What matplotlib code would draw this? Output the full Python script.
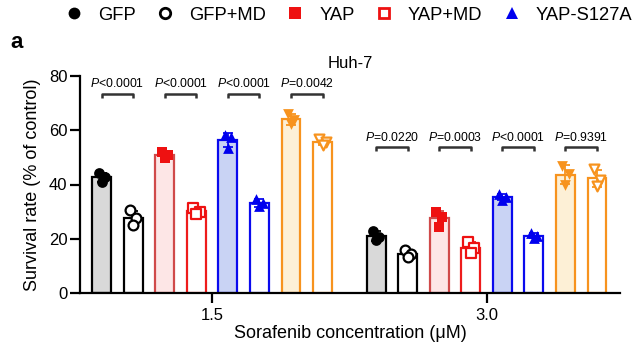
import matplotlib
matplotlib.use("Agg")
import matplotlib.pyplot as plt
from matplotlib.lines import Line2D
import numpy as np

plt.rcParams['font.family'] = ['Liberation Sans', 'DejaVu Sans']
plt.rcParams['mathtext.fontset'] = 'custom'
plt.rcParams['mathtext.it'] = 'Liberation Sans:italic'
plt.rcParams['mathtext.rm'] = 'Liberation Sans'

concentrations = ["1.5", "3.0"]
groups = ["GFP", "GFP+MD", "YAP", "YAP+MD", "YAP-S127A", "YAP-S127A+MD", "YAP-5SA", "YAP-5SA+MD"]

# individual replicate values (% of control)
pts_15 = [
    [44.2, 42.8, 41.0],
    [30.5, 27.5, 25.2],
    [52.0, 51.0, 49.8],
    [31.5, 30.0, 29.3],
    [58.2, 57.4, 53.3],
    [34.8, 33.0, 31.9],
    [66.0, 63.8, 62.2],
    [56.6, 55.5, 54.5],
]
pts_30 = [
    [23.0, 20.5, 19.5],
    [15.8, 14.2, 13.2],
    [30.0, 28.0, 24.5],
    [18.8, 16.5, 14.6],
    [36.5, 35.5, 34.2],
    [22.0, 21.0, 20.3],
    [47.0, 44.0, 40.0],
    [45.8, 41.5, 39.5],
]
pvals_15 = ["<0.0001", "<0.0001", "<0.0001", "=0.0042"]
pvals_30 = ["=0.0220", "=0.0003", "<0.0001", "=0.9391"]

fills = ['#d9d9d9', 'white', '#fde6e6', 'white', '#c9d3f4', 'white', '#fdf0d6', 'white']
edges = ['black', 'black', '#d04a4a', '#ee1c1c', '#0a0aee', '#0a0aee', '#f7931e', '#f7931e']
mcolors = ['black', 'black', '#ee1111', '#ee1111', '#0000ee', '#0000ee', '#f7931e', '#f7931e']
markers = ['o', 'o', 's', 's', '^', '^', 'v', 'v']
mfilled = [True, False, True, False, True, True, True, False]

fig = plt.figure(figsize=(6.32, 3.47), dpi=100)
ax = fig.add_axes([80/632, 1-293/347, 540/632, 217/347])

offset = 8.7
width = 0.6
jit = [-0.1, 0.1, 0.0]

for g, pts_all in enumerate([pts_15, pts_30]):
    for i, pts in enumerate(pts_all):
        x = g*offset + i
        m = np.mean(pts)
        sd = np.std(pts, ddof=1)
        ax.bar(x, m, width=width, color=fills[i], edgecolor=edges[i], linewidth=1.6, zorder=2)
        ax.errorbar(x, m, yerr=sd, color=edges[i], capsize=3.5, elinewidth=1.3, capthick=1.3, zorder=3)
        xs = [x + j for j in jit]
        if mfilled[i]:
            ax.scatter(xs, pts, marker=markers[i], s=60, color=mcolors[i], zorder=4, linewidths=0)
        else:
            ax.scatter(xs, pts, marker=markers[i], s=50, facecolor='white', edgecolor=mcolors[i], linewidths=1.6, zorder=4)

def bracket(x1, x2, y, text):
    h = 1.5
    ax.plot([x1, x1, x2, x2], [y-h, y, y, y-h], color='#333333', lw=1.8, zorder=5, solid_capstyle='butt')
    ax.text((x1+x2)/2, y+1.3, r"$\mathit{P}$" + text, ha='center', va='bottom', fontsize=8.8, zorder=6)

for k, p in enumerate(pvals_15):
    bracket(2*k, 2*k+1, 73.5, p)
for k, p in enumerate(pvals_30):
    bracket(offset+2*k, offset+2*k+1, 53.7, p)

ax.set_xlim(-0.69, 16.43)
ax.set_ylim(0, 80)
ax.set_yticks([0, 20, 40, 60, 80])
ax.set_xticks([3.5, offset+3.5])
ax.set_xticklabels(concentrations)
for s in ['top', 'right']:
    ax.spines[s].set_visible(False)
for s in ['left', 'bottom']:
    ax.spines[s].set_linewidth(1.6)
ax.tick_params(axis='both', width=1.6, length=7, labelsize=12, direction='out')
ax.tick_params(axis='y', pad=2)
ax.set_ylabel("Survival rate (% of control)", fontsize=13, labelpad=6)
ax.set_xlabel("Sorafenib concentration (μM)", fontsize=13, labelpad=2)
ax.set_title("Huh-7", fontsize=12, pad=6)

fig.text(10/632, 1-42/347, "a", fontsize=16, fontweight='bold', va='center', ha='left')

handles = []
labels = ["GFP", "GFP+MD", "YAP", "YAP+MD", "YAP-S127A"]
for i in range(5):
    if mfilled[i]:
        h = Line2D([], [], marker=markers[i], linestyle='none', markersize=8.5, color=mcolors[i], markeredgewidth=0)
    else:
        h = Line2D([], [], marker=markers[i], linestyle='none', markersize=7.5, markerfacecolor='white',
                   markeredgecolor=mcolors[i], markeredgewidth=2)
    handles.append(h)
fig.legend(handles, labels, loc='center left', bbox_to_anchor=(56/632, 1-15/347), ncol=5, frameon=False,
           fontsize=13.2, handlelength=1.0, handletextpad=0.8, columnspacing=1.1, borderpad=0)

fig.savefig("out.png", dpi=100)
